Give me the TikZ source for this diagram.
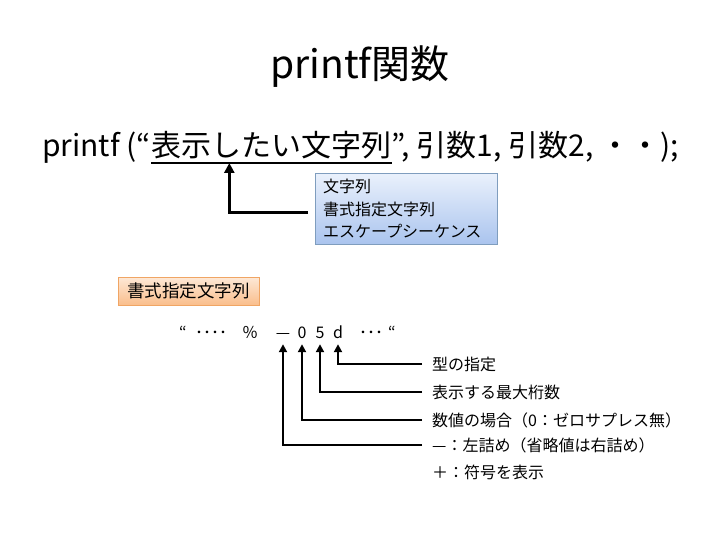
\documentclass[tikz,border=0pt]{standalone}
\usepackage{fontspec}
\setmainfont{Noto Sans CJK JP}
\usetikzlibrary{arrows.meta,positioning}
\definecolor{tiptop}{RGB}{234,241,252}
\definecolor{tipbot}{RGB}{170,196,238}
\definecolor{tipedge}{RGB}{127,157,190}
\definecolor{fmttop}{RGB}{253,232,214}
\definecolor{fmtbot}{RGB}{250,190,140}
\definecolor{fmtedge}{RGB}{240,165,100}

\begin{document}
\begin{tikzpicture}[x=1pt, y=-1pt,
  big/.style={inner sep=0pt, anchor=base west, font=\fontsize{30}{34}\selectfont},
  ch/.style={inner sep=0pt, anchor=base, text depth=6pt, font=\fontsize{16}{18}\selectfont},
  lab/.style={anchor=west, inner xsep=10pt, inner ysep=0pt, font=\fontsize{16}{18}\selectfont},
  arr/.style={-{Triangle[length=10pt,width=10pt]}, line width=3.2pt},
  sarr/.style={-{Triangle[length=8pt,width=8pt]}, line width=2.6pt}]
  \useasboundingbox (0,0) rectangle (720,540);
  \node (title) at (360,67) {\fontsize{39}{44}\selectfont printf関数};
  % the call
  \node[big] (pre) at (42,157) {printf (“};
  \node[big] (str) at (pre.base east) {表示したい文字列};
  \node[big] (post) at (str.base east) {”, 引数1, 引数2, ・・);};
  \draw[line width=2pt] ([yshift=-6pt]str.base west) -- ([yshift=-6pt]str.base east);
  \coordinate (aim) at ([xshift=78pt,yshift=-6pt]str.base west);
  \node[draw=tipedge, top color=tiptop, bottom color=tipbot, anchor=north west,
        minimum width=182pt, minimum height=71pt, text width=166pt, inner xsep=8pt,
        align=left, font=\fontsize{16}{22.5}\selectfont] (kinds) at (315,173)
        {文字列\\書式指定文字列\\エスケープシーケンス};
  \draw[arr, shorten <=7pt] ([yshift=-4pt]kinds.west) -| (aim);
  % the format
  \node[draw=fmtedge, top color=fmttop, bottom color=fmtbot, anchor=north west,
        minimum width=141pt, minimum height=28pt, inner sep=0pt,
        font=\fontsize{17.5}{20}\selectfont] (fmt) at (118,277) {書式指定文字列};
  \foreach \x/\t/\n in {183/“/qa, 211/････/da, 250/％/pc, 283/—/fl, 302/0/zr,
                        320/5/wd, 338/d/ty, 371/･･･/db, 392/“/qb}
    \node[ch] (\n) at (\x,338) {\t};
  \node[lab] (l1) at (422,364) {型の指定};
  \node[lab] (l2) at (422,392) {表示する最大桁数};
  \node[lab] (l3) at (422,420) {数値の場合（0：ゼロサプレス無）};
  \node[lab] (l4) at (422,445) {—：左詰め（省略値は右詰め）};
  \node[lab] (l5) at (422,472) {＋：符号を表示};
  \draw[sarr] (l1.west) -| (ty.south);
  \draw[sarr] (l2.west) -| (wd.south);
  \draw[sarr] (l3.west) -| (zr.south);
  \draw[sarr] (l4.west) -| (fl.south);
\end{tikzpicture}
\end{document}
